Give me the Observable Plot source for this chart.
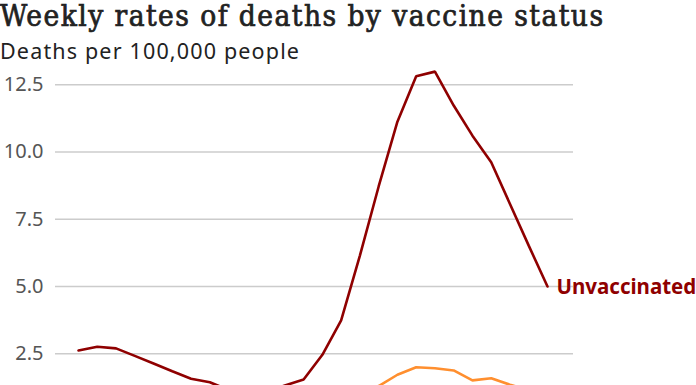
<!DOCTYPE html>
<html>
<head>
<meta charset="utf-8">
<script src="https://cdn.jsdelivr.net/npm/d3@7"></script>
<script src="https://cdn.jsdelivr.net/npm/@observablehq/plot@0.6"></script>
<style>
  html, body { margin: 0; padding: 0; background: #fff; overflow: hidden; }
  #title { font-family: "DejaVu Serif Condensed", "DejaVu Serif", serif; font-weight: normal; font-size: 29.5px; line-height: 33px; height: 34px; color: #222; -webkit-text-stroke: 0.7px #222; white-space: nowrap; margin: 0; }
  #subtitle { font-family: "Noto Sans", sans-serif; font-size: 21.5px; line-height: 26px; height: 26px; margin-top: 4px; color: #222; white-space: nowrap; }
  #chart svg { display: block; overflow: visible; }
</style>
</head>
<body>
<div id="title">Weekly rates of deaths by vaccine status</div>
<div id="subtitle">Deaths per 100,000 people</div>
<div id="chart"></div>
<script>
const weeks = [0, 1, 2, 3, 4, 5, 6, 7, 8, 9, 10, 11, 12, 13, 14, 15, 16, 17, 18, 19, 20, 21, 22, 23, 24, 25];
const unvaccinated = [2.62, 2.76, 2.70, 2.42, 2.14, 1.85, 1.57, 1.44, 1.15, 1.02, 1.08, 1.32, 1.54, 2.46, 3.74, 6.15, 8.72, 11.13, 12.82, 12.99, 11.73, 10.61, 9.62, 8.07, 6.52, 5.00];
const vaccinated = [0.35, 0.36, 0.36, 0.34, 0.32, 0.30, 0.28, 0.27, 0.27, 0.30, 0.33, 0.40, 0.50, 0.70, 0.90, 1.10, 1.30, 1.72, 2.00, 1.96, 1.88, 1.51, 1.59, 1.35, 1.15, 1.00];
const yTicks = [2.5, 5, 7.5, 10, 12.5];
const seriesNames = ["Unvaccinated", "Vaccinated"];
const seriesColors = ["#8f0000", "#ff8f2f"];

const rows = [];
weeks.forEach((w, i) => {
  rows.push({week: w, value: unvaccinated[i], status: seriesNames[0]});
  rows.push({week: w, value: vaccinated[i], status: seriesNames[1]});
});
const lastUnvax = rows.filter(d => d.status === seriesNames[0]).slice(-1);

// fit title widths to the reference
function fit(el, target) {
  const r = document.createRange(); r.selectNodeContents(el);
  const w = r.getBoundingClientRect().width;
  el.style.letterSpacing = ((target - w) / (el.textContent.length - 1)) + "px";
}
fit(document.getElementById("title"), 603);
fit(document.getElementById("subtitle"), 299);

const chart = Plot.plot({
  width: 696,
  height: 390,
  marginLeft: 55,
  marginRight: 123,
  marginTop: 20.3,
  marginBottom: 33.5,
  style: {fontFamily: "Noto Sans, sans-serif", background: "transparent", overflow: "visible"},
  x: {domain: [-1.226, 26.386], axis: null},
  y: {domain: [0, 12.5], axis: null},
  color: {domain: seriesNames, range: seriesColors},
  marks: [
    Plot.gridY(yTicks, {stroke: "#cccccc", strokeOpacity: 1, strokeWidth: 1.5}),
    Plot.axisY(yTicks, {tickSize: 0, tickPadding: 12, tickFormat: d3.format(".1f"), fontSize: 20, fill: "#555555", label: null}),
    Plot.line(rows, {x: "week", y: "value", z: "status", stroke: "status", strokeWidth: 2.6, strokeLinejoin: "miter", curve: "linear"}),
    Plot.text(lastUnvax, {x: "week", y: "value", text: "status", fill: seriesColors[0], textAnchor: "start", dx: 9, dy: 1, fontSize: 20.5, fontWeight: "bold"})
  ]
});
document.getElementById("chart").appendChild(chart);
</script>
</body>
</html>
